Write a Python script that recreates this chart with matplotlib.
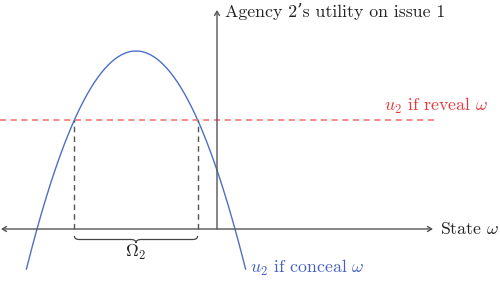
import numpy as np
import matplotlib
matplotlib.use("Agg")
import matplotlib.pyplot as plt
from matplotlib.path import Path
from matplotlib.patches import PathPatch

plt.rcParams['mathtext.fontset'] = 'cm'
plt.rcParams['font.family'] = ['cmr10', 'DejaVu Serif']
plt.rcParams['axes.formatter.use_mathtext'] = True

# Conceptual diagram parameters (in drawing units)
vertex_x = -81.0        # state at which concealed utility peaks
vertex_y = 178.0        # peak utility when concealing
root_halfwidth = 99.0   # half distance between zeros of the concealed curve
reveal_level = 109.0    # utility if reveal
curve_bottom = -40.0    # lowest drawn value of the concealed curve

labels = {
    "xaxis": r"State $\omega$",
    "yaxis": "Agency 2’s utility on issue 1",
    "reveal": r"$u_2$ if reveal $\omega$",
    "conceal": r"$u_2$ if conceal $\omega$",
    "omega": r"$\Omega_2$",
}

a = vertex_y / root_halfwidth**2
def conceal(x):
    return vertex_y - a * (x - vertex_x) ** 2

half_end = np.sqrt((vertex_y - curve_bottom) / a)
half_int = np.sqrt((vertex_y - reveal_level) / a)
xl, xr = vertex_x - half_int, vertex_x + half_int

fig = plt.figure(figsize=(5.0, 2.81), dpi=100)
ax = fig.add_axes([0, 0, 1, 1])
ax.set_xlim(-217, 283)
ax.set_ylim(-52, 229)
ax.axis('off')

axcol = '#555555'
# axes arrows
ax.annotate('', xy=(-216, 0), xytext=(216, 0),
            arrowprops=dict(arrowstyle='<->,head_length=0.3,head_width=0.18', color=axcol, lw=1.0, shrinkA=0, shrinkB=0))
ax.annotate('', xy=(0, 219), xytext=(0, 0),
            arrowprops=dict(arrowstyle='->,head_length=0.3,head_width=0.18', color=axcol, lw=1.0, shrinkA=0, shrinkB=0))

# curve
xs = np.linspace(vertex_x - half_end, vertex_x + half_end, 400)
ax.plot(xs, conceal(xs), color='#4f6fc6', lw=1.0)

# reveal line
ax.plot([-217, 220], [reveal_level, reveal_level], color='#f26b6b', lw=1.1,
        dashes=(4, 3))

# vertical dashed
for xv in (xl, xr):
    ax.plot([xv, xv], [0, reveal_level], color='#555555', lw=1.0, dashes=(4, 3))

# brace
def brace(x0, x1, ytop, depth):
    m = 0.5 * (x0 + x1)
    h = depth / 2
    r = 5
    verts = [
        (x0, ytop), (x0, ytop - h), (x0 + r, ytop - h),
        (m - r, ytop - h), (m, ytop - h), (m, ytop - depth),
        (m, ytop - h), (m + r, ytop - h),
        (x1 - r, ytop - h), (x1, ytop - h), (x1, ytop),
    ]
    codes = [Path.MOVETO, Path.CURVE3, Path.CURVE3,
             Path.LINETO, Path.CURVE3, Path.CURVE3,
             Path.CURVE3, Path.CURVE3,
             Path.LINETO, Path.CURVE3, Path.CURVE3]
    return Path(verts, codes)

ax.add_patch(PathPatch(brace(xl, xr, -7, 7), fill=False, edgecolor='#444444', lw=0.9))

fs = 12.8
ax.text(0.5 * (xl + xr), -23, labels["omega"], ha='center', va='center', fontsize=fs, color='#222222')
ax.text(223, 0, labels["xaxis"], ha='left', va='center', fontsize=fs, color='#222222')
ax.text(8, 217, labels["yaxis"], ha='left', va='center', fontsize=fs, color='#222222')
ax.text(167, reveal_level + 14, labels["reveal"], ha='left', va='center', fontsize=fs, color='#e8363a')
ax.text(33, -39, labels["conceal"], ha='left', va='center', fontsize=fs, color='#4460c0')

fig.savefig('out.png', dpi=100)
